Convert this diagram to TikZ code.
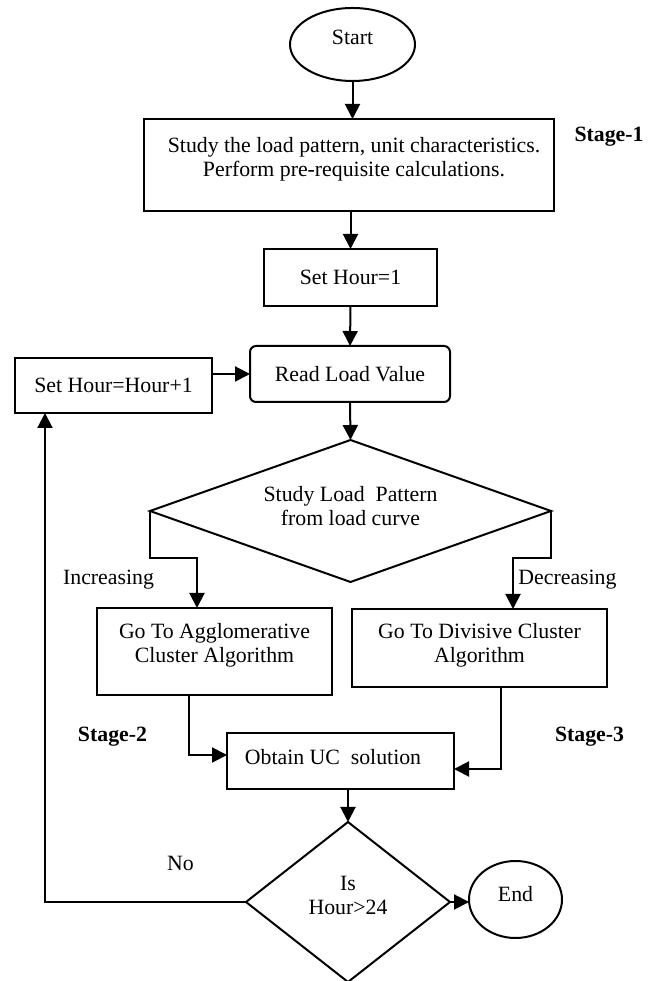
\documentclass[tikz,border=0pt]{standalone}
\usepackage{fontspec}
\setmainfont{Liberation Serif}
\usetikzlibrary{arrows.meta,shapes.geometric}
\begin{document}
\begin{tikzpicture}[x=1pt,y=1pt,
  every node/.style={font=\fontsize{21.8}{24}\selectfont, inner sep=0pt, outer sep=0pt},
  box/.style={draw, line width=2pt, rectangle},
  rbox/.style={draw, line width=2pt, rectangle, rounded corners=6pt},
  oval/.style={draw, line width=2pt, ellipse},
  dia/.style={draw, line width=2pt, diamond},
  txt/.style={align=center},
  lbl/.style={font=\fontsize{21.8}{24}\selectfont\bfseries},
  arr/.style={line width=2pt, -{Triangle[length=15pt,width=15pt]}}
]
\useasboundingbox (0,0) rectangle (656,981);

% shapes
\node[oval, minimum width=125pt, minimum height=73pt] (start) at (352.5,936.5) {};
\node[txt] (startt) at (352.5,943.5) {Start};

\node[box, minimum width=410pt, minimum height=92pt] (b1) at (349,816) {};
\node[txt] (b1t) at (354,822) {Study the load pattern, unit characteristics.\\Perform pre-requisite calculations.};

\node[box, minimum width=173pt, minimum height=57pt] (sh1) at (350.5,703.5) {Set Hour=1};

\node[rbox, minimum width=200pt, minimum height=56pt] (rl) at (350,607) {Read Load Value};

\node[box, minimum width=197pt, minimum height=55pt] (shh) at (113.5,595.5) {Set Hour=Hour+1};

\node[dia, minimum width=401pt, minimum height=142pt] (d1) at (350.5,470) {};
\node[txt] (d1t) at (350.5,475) {Study Load\ \ Pattern\\from load curve};

\node[box, minimum width=235pt, minimum height=87pt] (ag) at (214.5,329.5) {};
\node[txt] (agt) at (214.5,336) {Go To Agglomerative\\Cluster Algorithm};

\node[box, minimum width=255pt, minimum height=78pt] (dv) at (479.5,333) {};
\node[txt] (dvt) at (479.5,336) {Go To Divisive Cluster\\Algorithm};

\node[box, minimum width=227pt, minimum height=56pt] (ob) at (340.5,220) {};
\node[txt] (obt) at (333,224) {Obtain UC\ \ solution};

\node[dia, minimum width=204pt, minimum height=160pt] (d2) at (348,79) {};
\node[txt] (d2t) at (348,86) {Is\\Hour\textgreater24};

\node[oval, minimum width=93pt, minimum height=77pt] (end) at (515.5,81.5) {};
\node[txt] (endt) at (515.5,87) {End};

% labels
\node[lbl] (s1) at (609,844) {Stage-1};
\node[lbl] (s2) at (112.5,244) {Stage-2};
\node[lbl] (s3) at (589.5,244) {Stage-3};
\node (inc) at (108.5,401) {Increasing};
\node (dec) at (567.5,401) {Decreasing};
\node (no) at (180.5,118) {No};

% helper coordinates
\coordinate (c1) at (197,423);
\coordinate (c2) at (513,423);
\coordinate (c3) at (189,226);
\coordinate (c4) at (501,212);
\coordinate (c5) at (45,79);

% connectors
\draw[arr] (start.south) -- (start.south |- b1.north);
\draw[arr] (sh1.north |- b1.south) -- (sh1.north);
\draw[arr] (sh1.south) -- (rl.north);
\draw[arr] (shh.east |- rl.west) -- (rl.west);
\draw[arr] (rl.south) -- (d1.north);
\draw[arr] (d1.west) |- (c1) -- (c1 |- ag.north);
\draw[arr] (d1.east) |- (c2) -- (c2 |- dv.north);
\draw[arr] (c3 |- ag.south) -- (c3) -- (c3 -| ob.west);
\draw[arr] (c4 |- dv.south) -- (c4) -- (c4 -| ob.east);
\draw[arr] (d2.north |- ob.south) -- (d2.north);
\draw[arr] (d2.east) -- (d2.east -| end.west);
\draw[arr] (d2.west) -- (c5) -- (c5 |- shh.south);
\end{tikzpicture}
\end{document}
